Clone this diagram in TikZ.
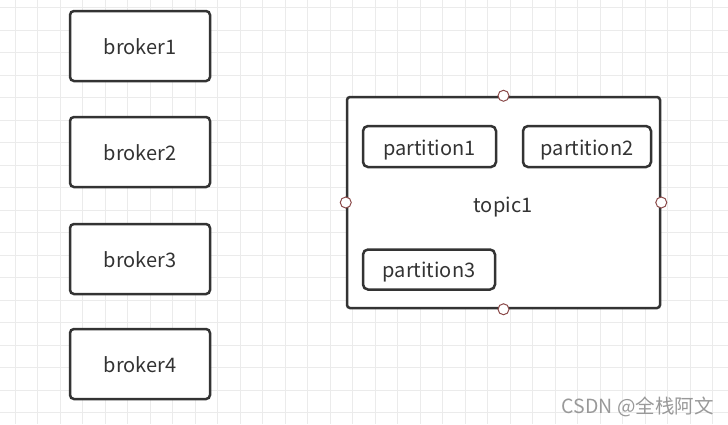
\documentclass[tikz,border=0pt]{standalone}
\usepackage{fontspec}
\setmainfont{Noto Sans CJK SC}
\newfontfamily\cjk{Noto Sans CJK SC}
\definecolor{gridc}{HTML}{EBEBEB}
\definecolor{boxc}{HTML}{333333}
\definecolor{txtc}{HTML}{333333}
\definecolor{portc}{HTML}{8B4A4A}
\definecolor{wmc}{HTML}{999999}
\begin{document}
\begin{tikzpicture}[x=1pt,y=-1pt,
  brokerbox/.style={draw=boxc, line width=2.5pt, rounded corners=4pt, fill=white,
    minimum width=140pt, minimum height=70pt, inner sep=0pt, text=txtc,
    font=\fontsize{20}{24}\selectfont},
  partbox/.style={draw=boxc, line width=2.5pt, rounded corners=5pt, fill=white,
    minimum height=41pt, inner sep=0pt, text=txtc,
    font=\fontsize{20}{24}\selectfont},
  topicbox/.style={draw=boxc, line width=2.5pt, rounded corners=3pt, fill=white,
    minimum width=313pt, minimum height=211pt, inner sep=0pt},
  port/.style={circle, draw=portc, line width=1pt, fill=white, minimum size=11pt, inner sep=0pt},
  lbl/.style={text=txtc, font=\fontsize{20}{24}\selectfont, inner sep=0pt}
]
\useasboundingbox (0,0) rectangle (728,424);
\fill[white] (0,0) rectangle (728,424);
% grid
\foreach \i in {0,...,32} {
  \draw[gridc, line width=1pt] (15+22.5*\i,0) -- (15+22.5*\i,424);
}
\foreach \j in {0,...,18} {
  \draw[gridc, line width=1pt] (0,7.5+22.5*\j) -- (728,7.5+22.5*\j);
}
% brokers
\node[brokerbox] (b1) at (140,46) {};
\node[brokerbox] (b2) at (140,152) {};
\node[brokerbox] (b3) at (140,259) {};
\node[brokerbox] (b4) at (140,364) {};
\node[lbl, anchor=base] (b1t) at (140,54.5) {broker1};
\node[lbl, anchor=base] (b2t) at (140,160.5) {broker2};
\node[lbl, anchor=base] (b3t) at (140,267.5) {broker3};
\node[lbl, anchor=base] (b4t) at (140,372.5) {broker4};
% topic
\node[topicbox] (t) at (503.5,202.5) {};
\node[partbox, minimum width=133pt] (p1) at (429.5,146.5) {};
\node[partbox, minimum width=128pt] (p2) at (587,146.5) {};
\node[partbox, minimum width=132pt, minimum height=40pt] (p3) at (429,269.5) {};
\node[lbl, anchor=base] (tl) at (503,212) {topic1};
\node[lbl, anchor=base] (p1t) at (429.5,155) {partition1};
\node[lbl, anchor=base] (p2t) at (587,155) {partition2};
\node[lbl, anchor=base] (p3t) at (429,277.5) {partition3};
% ports
\node[port] (pt) at (t.north) {};
\node[port] (pb) at (t.south) {};
\node[port] (pl) at (t.west) {};
\node[port] (pr) at (t.east) {};
% watermark
\node[text=wmc, font=\cjk\fontsize{19.5}{21}\selectfont, inner sep=0pt, anchor=base east] (wm) at (714,413.5) {CSDN @全栈阿文};
\end{tikzpicture}
\end{document}
